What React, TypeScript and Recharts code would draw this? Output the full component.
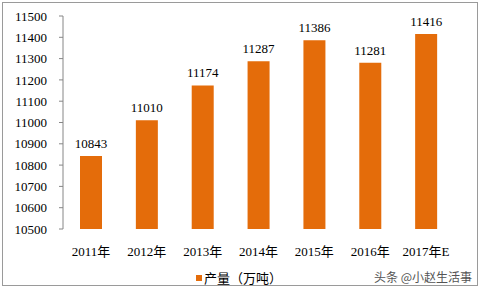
import React from 'react';
import { BarChart, Bar, XAxis, YAxis, LabelList, Legend } from 'recharts';

const years = ['2011年', '2012年', '2013年', '2014年', '2015年', '2016年', '2017年E'];
const output = [10843, 11010, 11174, 11287, 11386, 11281, 11416];
const yTicks = [10500, 10600, 10700, 10800, 10900, 11000, 11100, 11200, 11300, 11400, 11500];
const boundaryTicks = [0, 1, 2, 3, 4, 5, 6, 7];
const seriesName = '产量（万吨）';
const credit = '头条 @小赵生活事';

const data = years.map((y, i) => ({ year: y, value: output[i] }));

const FONT = '"Liberation Serif", "Noto Sans CJK SC", serif';
const ORANGE = '#E46C0A';
const AXIS = '#868686';

const LegendContent = () => (
  <div style={{ position: 'relative', width: 482, height: 24, fontFamily: FONT, fontSize: 13, color: '#000', whiteSpace: 'nowrap' }}>
    <div style={{ position: 'absolute', left: 196, top: 2, display: 'flex', alignItems: 'center' }}>
      <span style={{ display: 'inline-block', width: 6, height: 6, background: ORANGE, marginRight: 2 }} />
      <span>{seriesName}</span>
    </div>
    <div style={{ position: 'absolute', left: 374, top: 2, color: '#555', fontFamily: '"Noto Sans CJK SC", sans-serif', fontSize: 12, whiteSpace: 'nowrap' }}>
      {credit}
    </div>
  </div>
);

export default function App() {
  return (
    <div style={{ position: 'absolute', left: 0, top: 0, width: 482, height: 290, background: '#fff' }}>
      <div style={{ position: 'absolute', left: 2, top: 2, width: 476, height: 284, border: '1px solid #9a9a9a', boxSizing: 'border-box' }} />
      <BarChart
        width={482}
        height={290}
        data={data}
        margin={{ top: 16, right: 28, bottom: 0, left: 0 }}
      >
        <XAxis
          xAxisId="grid"
          type="number"
          domain={[0, 7]}
          ticks={boundaryTicks}
          height={0}
          tickSize={5}
          tickFormatter={() => ''}
          axisLine={{ stroke: AXIS }}
          tickLine={{ stroke: AXIS }}
          allowDataOverflow
        />
        <XAxis
          xAxisId="cat"
          dataKey="year"
          height={37}
          axisLine={false}
          tickLine={false}
          interval={0}
          tickMargin={12}
          tick={{ fill: '#000', fontSize: 13, fontFamily: FONT }}
        />
        <YAxis
          domain={[10500, 11500]}
          ticks={yTicks}
          width={63}
          tickSize={4}
          tickMargin={12}
          axisLine={{ stroke: AXIS }}
          tickLine={{ stroke: AXIS }}
          tick={{ fill: '#000', fontSize: 13, fontFamily: FONT }}
          allowDataOverflow
        />
        <Legend
          verticalAlign="bottom"
          height={24}
          content={<LegendContent />}
          wrapperStyle={{ left: 0, width: 482 }}
        />
        <Bar
          xAxisId="cat"
          dataKey="value"
          name={seriesName}
          fill={ORANGE}
          barSize={22}
          isAnimationActive={false}
        >
          <LabelList dataKey="value" position="top" offset={8} fill="#000" fontSize={13} fontFamily={FONT} />
        </Bar>
      </BarChart>
    </div>
  );
}
